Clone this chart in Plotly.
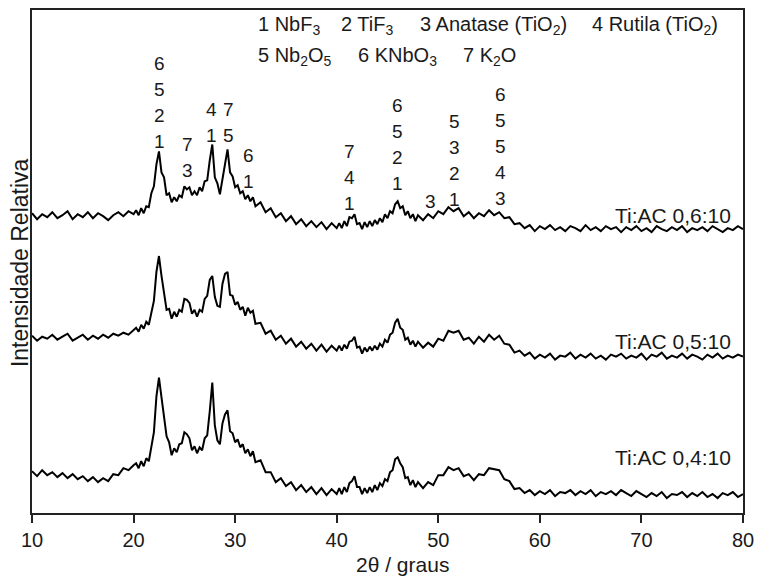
import numpy as np
import plotly.graph_objects as go

# ---------------- data ----------------
two_theta = np.concatenate([
    np.arange(10.0, 20.001, 0.5),
    np.arange(20.25, 32.001, 0.25),
    np.arange(32.5, 40.001, 0.5),
    np.arange(40.25, 48.001, 0.25),
    np.arange(48.5, 80.001, 0.5),
])

I_06 = [301, 295, 300, 297, 302, 296, 299, 303, 295, 300, 297, 302, 296, 301, 298, 294, 299, 302, 298, 303, 300,
        304, 299, 306, 301, 308, 307, 321, 328, 350, 363, 342, 337, 319, 321, 312, 317, 313, 319, 317, 328,
        325, 327, 319, 323, 319, 327, 323, 333, 334, 354, 370, 337, 331, 320, 335, 350, 365, 342, 338, 327,
        329, 321, 323, 315, 319, 313, 317, 308,
        312, 302, 306, 297, 301, 293, 298, 290, 295, 288, 293, 287, 292, 285, 291, 286,
        291, 286, 293, 288, 297, 296, 300, 290, 291, 285, 292, 287, 293, 288, 294, 290,
        296, 292, 300, 296, 303, 301, 310, 313, 306, 308, 299, 303, 296, 300, 293, 299,
        294, 300, 296, 303, 300, 307, 303, 306, 298, 302, 296, 301, 298, 304, 299, 302, 296, 297, 290, 291, 286, 289,
        283, 288, 285, 289, 284, 287, 283, 288, 286, 283, 289, 284, 287, 283, 288, 285, 287,
        282, 287, 284, 288, 283, 286, 282, 288, 285, 283, 287, 284, 288, 282, 286, 284, 287, 283, 288, 285,
        282, 286, 284, 288, 285]

I_05 = [178, 173, 177, 175, 179, 174, 177, 180, 173, 176, 179, 174, 178, 175, 179, 176, 180, 178, 181, 179, 184,
        186, 182, 189, 185, 192, 189, 201, 213, 242, 258, 238, 220, 204, 205, 195, 202, 197, 204, 202, 215,
        214, 211, 200, 204, 197, 204, 202, 215, 218, 234, 238, 217, 208, 207, 230, 240, 242, 219, 218, 209,
        212, 204, 207, 198, 206, 201, 203, 190,
        191, 180, 183, 174, 178, 170, 175, 167, 172, 165, 170, 163, 169, 162, 168, 163,
        168, 163, 169, 165, 172, 173, 177, 166, 167, 160, 166, 162, 167, 163, 168, 164,
        170, 167, 174, 171, 179, 181, 191, 195, 186, 184, 174, 176, 169, 173, 167, 172,
        166, 171, 167, 175, 173, 183, 181, 183, 174, 176, 170, 177, 172, 179, 174, 178, 170, 169, 161, 163, 158, 161,
        155, 159, 156, 160, 154, 158, 157, 161, 155, 159, 156, 160, 155, 158, 154, 159, 157, 160, 155, 158,
        156, 160, 154, 159, 157, 161, 155, 158, 156, 160, 155, 159, 157, 154, 159, 156, 160, 155, 158, 156,
        159, 157]

I_04 = [42, 37, 43, 38, 41, 36, 40, 35, 39, 34, 37, 32, 36, 31, 35, 32, 39, 38, 45, 43, 48,
        50, 45, 52, 47, 55, 52, 65, 81, 117, 136, 116, 98, 77, 71, 58, 65, 61, 69, 70, 81,
        79, 75, 63, 67, 60, 66, 63, 75, 78, 102, 131, 88, 73, 69, 90, 99, 103, 82, 80, 71,
        74, 66, 69, 60, 64, 57, 62, 51,
        53, 41, 41, 31, 35, 27, 31, 23, 28, 21, 26, 19, 25, 18, 24, 19,
        25, 19, 26, 21, 30, 32, 37, 26, 26, 19, 25, 20, 26, 21, 28, 23,
        30, 27, 34, 32, 41, 43, 54, 56, 50, 46, 35, 36, 28, 33, 26, 31,
        25, 31, 28, 38, 38, 46, 43, 45, 37, 39, 33, 39, 38, 45, 44, 43, 34, 32, 24, 25, 20, 23,
        18, 22, 19, 23, 17, 21, 20, 23, 18, 22, 19, 23, 17, 21, 19, 22, 18, 23, 20, 17, 22, 19,
        16, 20, 17, 21, 15, 19, 18, 21, 16, 20, 17, 21, 16, 19, 15, 20, 18, 21, 16, 19]

series_names = ["Ti:AC 0,6:10", "Ti:AC 0,5:10", "Ti:AC 0,4:10"]
series_values = [I_06, I_05, I_04]

phase_row1 = ["1 NbF<sub>3</sub>", "2 TiF<sub>3</sub>", "3 Anatase (TiO<sub>2</sub>)", "4 Rutila (TiO<sub>2</sub>)"]
phase_row2 = ["5 Nb<sub>2</sub>O<sub>5</sub>", "6 KNbO<sub>3</sub>", "7 K<sub>2</sub>O"]

peak_two_theta = [22.6, 25.3, 27.7, 29.3, 31.3, 41.3, 46.0, 49.2, 51.6, 56.1]
peak_phases = [["6", "5", "2", "1"], ["7", "3"], ["4", "1"], ["7", "5"], ["6", "1"],
               ["7", "4", "1"], ["6", "5", "2", "1"], ["3"], ["5", "3", "2", "1"], ["6", "5", "5", "4", "3"]]

x_ticks = [10, 20, 30, 40, 50, 60, 70, 80]

for s in series_values:
    assert len(s) == len(two_theta), (len(s), len(two_theta))

# ---------------- layout helpers ----------------
FONT = "Liberation Sans, Arial, Helvetica, sans-serif"
TXT = "#1a1a1a"
peak_label_base = [373, 344, 379, 379, 333, 311, 331, 313, 315, 316]  # y of lowest digit
peak_label_step = 26
series_label_y = [299, 172, 56]
row1_x = [257, 341, 420, 593]
row2_x = [257, 358, 463]

fig = go.Figure()
for name, vals in zip(series_names, series_values):
    fig.add_trace(go.Scatter(x=two_theta, y=vals, mode="lines", name=name,
                             line=dict(color="black", width=2.0), showlegend=False))

ann = []
for name, yv in zip(series_names, series_label_y):
    ann.append(dict(x=79.0, y=yv, xref="x", yref="y", text=name, showarrow=False,
                    xanchor="right", yanchor="middle", font=dict(size=21, color=TXT, family=FONT)))

for xp, labs, base in zip(peak_two_theta, peak_phases, peak_label_base):
    n = len(labs)
    for i, lab in enumerate(labs):
        ann.append(dict(x=xp, y=base + (n - 1 - i) * peak_label_step, xref="x", yref="y", text=lab,
                        showarrow=False, xanchor="center", yanchor="middle",
                        font=dict(size=19, color=TXT, family=FONT)))

for txt, px in zip(phase_row1, row1_x):
    ann.append(dict(x=(px - 32) / 715, y=(513 - 24) / 505, xref="paper", yref="paper", text=txt,
                    showarrow=False, xanchor="left", yanchor="middle",
                    font=dict(size=20, color=TXT, family=FONT)))
for txt, px in zip(phase_row2, row2_x):
    ann.append(dict(x=(px - 32) / 715, y=(513 - 55) / 505, xref="paper", yref="paper", text=txt,
                    showarrow=False, xanchor="left", yanchor="middle",
                    font=dict(size=20, color=TXT, family=FONT)))

ann.append(dict(x=(20 - 32) / 715, y=(513 - 262) / 505, xref="paper", yref="paper",
                text="Intensidade Relativa", textangle=-90, showarrow=False,
                xanchor="center", yanchor="middle", font=dict(size=23, color=TXT, family=FONT)))
ann.append(dict(x=(405 - 32) / 715, y=(513 - 565) / 505, xref="paper", yref="paper",
                text="2θ / graus", showarrow=False, xanchor="center", yanchor="middle",
                font=dict(size=21, color=TXT, family=FONT)))

fig.update_layout(
    width=762, height=578,
    margin=dict(l=32, r=15, t=8, b=65),
    paper_bgcolor="white", plot_bgcolor="white",
    annotations=ann,
    xaxis=dict(range=[10, 80], tickvals=x_ticks, ticks="outside", ticklen=8, tickwidth=1.5,
               tickcolor="#222", showline=True, linecolor="#222", linewidth=1.5, mirror=True,
               showgrid=False, zeroline=False,
               tickfont=dict(size=20, color=TXT, family=FONT)),
    yaxis=dict(range=[0, 505], showticklabels=False, ticks="", showline=True, linecolor="#222",
               linewidth=1.5, mirror=True, showgrid=False, zeroline=False),
)

fig.write_html("out.html", config={"displayModeBar": False},
               post_script="document.body.style.margin='0';document.body.style.padding='0';")
